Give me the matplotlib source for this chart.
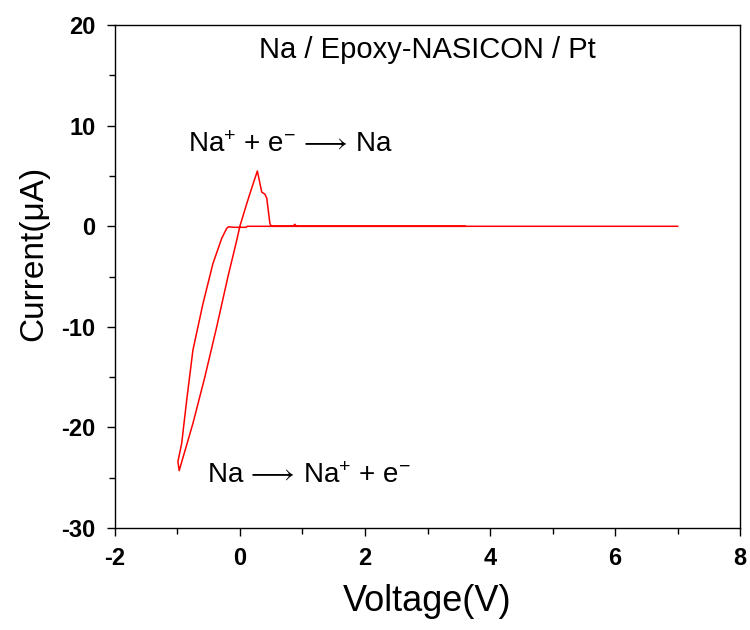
import matplotlib
matplotlib.use("Agg")
import matplotlib.pyplot as plt
from matplotlib.ticker import MultipleLocator

plt.rcParams['font.family'] = ['Liberation Sans', 'DejaVu Sans']
plt.rcParams['mathtext.fontset'] = 'custom'
plt.rcParams['mathtext.rm'] = 'Liberation Sans'
plt.rcParams['mathtext.it'] = 'Liberation Sans'
plt.rcParams['axes.unicode_minus'] = False

# Cyclic voltammogram: scan from 3.6 V down to -1 V, then back up to 7 V
voltage = [3.6, 2.0, 1.0, 0.5, 0.3, 0.12, 0.1, 0.0, -0.1, -0.18, -0.21,
           -0.29, -0.43, -0.59, -0.75, -0.85, -0.93, -0.99, -0.97,
           -0.75, -0.56, -0.37, -0.19, -0.05, 0.0, 0.11, 0.2, 0.28,
           0.35, 0.4, 0.43, 0.48, 0.5, 0.85, 0.88, 0.9, 2.0, 4.0, 7.0]
current = [0.0, 0.0, 0.0, 0.0, 0.0, 0.0, -0.1, -0.1, -0.1, -0.05, -0.2,
           -1.2, -3.7, -7.7, -12.3, -17.3, -21.6, -23.4, -24.3,
           -19.6, -15.0, -10.0, -5.0, -1.4, 0.0, 2.25, 4.0, 5.5,
           3.4, 3.2, 2.8, 0.3, 0.0, 0.0, 0.2, 0.0, 0.0, 0.0, 0.0]

fig = plt.figure(figsize=(7.5, 6.3), dpi=100)
ax = fig.add_axes([0.153, 0.162, 0.834, 0.798])

ax.plot(voltage, current, color='red', lw=1.1)

ax.set_xlim(-2, 8)
ax.set_ylim(-30, 20)
ax.xaxis.set_major_locator(MultipleLocator(2))
ax.xaxis.set_minor_locator(MultipleLocator(1))
ax.yaxis.set_major_locator(MultipleLocator(10))
ax.yaxis.set_minor_locator(MultipleLocator(5))
ax.tick_params(which='major', direction='out', length=6, width=1, pad=8)
ax.tick_params(which='minor', direction='out', length=4, width=1)
ax.tick_params(labelsize=17)
for lbl in ax.get_xticklabels() + ax.get_yticklabels():
    lbl.set_fontweight('bold')
for sp in ax.spines.values():
    sp.set_linewidth(1)

ax.set_xlabel('Voltage(V)', fontsize=26, labelpad=10)
ax.set_ylabel('Current(μA)', fontsize=24)
ax.yaxis.set_label_coords(-0.104, 0.547)

ax.text(0.5, 0.95, 'Na / Epoxy-NASICON / Pt', transform=ax.transAxes,
        ha='center', va='center', fontsize=21)
ax.text(-0.83, 8.1, r'Na$^{+}$ + e$^{-}$$\,\longrightarrow\,$Na', ha='left', va='center', fontsize=20)
ax.text(-0.53, -24.8, r'Na$\,\longrightarrow\,$Na$^{+}$ + e$^{-}$', ha='left', va='center', fontsize=20)

fig.savefig('out.png', dpi=100)
